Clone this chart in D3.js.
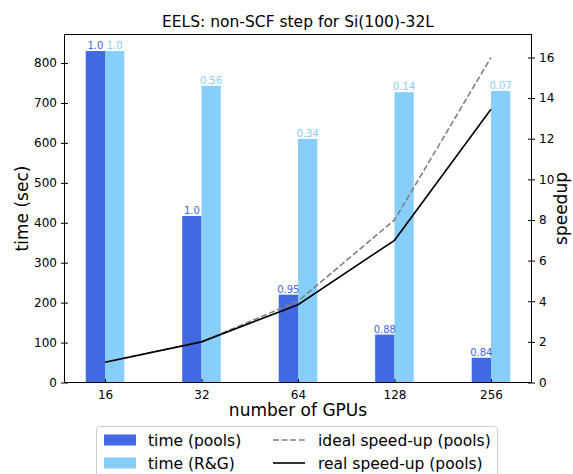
<!DOCTYPE html>
<meta charset="utf-8">
<style>
body { margin: 0; background: #fff; }
text { font-family: "DejaVu Sans", sans-serif; fill: #000; }
.axis path, .axis line { stroke: #000; }
</style>
<svg width="573" height="474"></svg>
<script src="https://cdn.jsdelivr.net/npm/d3@7"></script>
<script>

var gpus = ["16", "32", "64", "128", "256"];
var timePools = [830, 417, 220, 120, 62];
var timeRG = [830, 743, 610, 727, 730];
var effPools = ["1.0", "1.0", "0.95", "0.88", "0.84"];
var effRG = ["1.0", "0.56", "0.34", "0.14", "0.07"];
var idealSpeedup = [1, 2, 4, 8, 16];
var realSpeedup = [1, 2, 3.83, 7, 13.45];
var leftTicks = [0, 100, 200, 300, 400, 500, 600, 700, 800];
var rightTicks = [0, 2, 4, 6, 8, 10, 12, 14, 16];

var svg = d3.select("svg"),
    plotL = 64.5, plotR = 531.5, plotT = 34.5, plotB = 382.5,
    barW = 0.2,
    poolsColor = "#4169e1", rgColor = "#87cefa";

var x = d3.scaleLinear().domain([-0.42, 4.42]).range([plotL, plotR]);
var y = d3.scaleLinear().domain([0, 871.5]).range([plotB, plotT]);
var y2 = d3.scaleLinear().domain([0, 17.13]).range([plotB, plotT]);

// bars
svg.append("g").selectAll("rect")
  .data(timePools)
  .enter().append("rect")
    .attr("x", function(d, i) { return x(i - barW); })
    .attr("width", function(d, i) { return x(i) - x(i - barW); })
    .attr("y", function(d) { return y(d); })
    .attr("height", function(d) { return y(0) - y(d); })
    .attr("fill", poolsColor);

svg.append("g").selectAll("rect")
  .data(timeRG)
  .enter().append("rect")
    .attr("x", function(d, i) { return x(i); })
    .attr("width", function(d, i) { return x(i + barW) - x(i); })
    .attr("y", function(d) { return y(d); })
    .attr("height", function(d) { return y(0) - y(d); })
    .attr("fill", rgColor);

// efficiency labels
svg.append("g").selectAll("text")
  .data(timePools)
  .enter().append("text")
    .attr("x", function(d, i) { return x(i - barW / 2); })
    .attr("y", function(d) { return y(d) - 2; })
    .attr("text-anchor", "middle")
    .style("font-size", "10px")
    .style("fill", poolsColor)
    .text(function(d, i) { return effPools[i]; });

svg.append("g").selectAll("text")
  .data(timeRG)
  .enter().append("text")
    .attr("x", function(d, i) { return x(i + barW / 2); })
    .attr("y", function(d) { return y(d) - 2; })
    .attr("text-anchor", "middle")
    .style("font-size", "10px")
    .style("fill", rgColor)
    .text(function(d, i) { return effRG[i]; });

// speedup lines
var line = d3.line()
    .x(function(d, i) { return x(i); })
    .y(function(d) { return y2(d); });

svg.append("path")
    .datum(idealSpeedup)
    .attr("d", line)
    .attr("fill", "none")
    .attr("stroke", "#808080")
    .attr("stroke-width", 1.6)
    .attr("stroke-dasharray", "6,2.6");

svg.append("path")
    .datum(realSpeedup)
    .attr("d", line)
    .attr("fill", "none")
    .attr("stroke", "#000")
    .attr("stroke-width", 1.6);

// frame
svg.append("rect")
    .attr("x", plotL).attr("y", plotT)
    .attr("width", plotR - plotL).attr("height", plotB - plotT)
    .attr("fill", "none").attr("stroke", "#000").attr("stroke-width", 1);

// axes
var yAxis = svg.append("g").attr("class", "axis")
    .attr("transform", "translate(" + plotL + ",0)")
    .call(d3.axisLeft(y).tickValues(leftTicks).tickSize(3.5).tickPadding(4));
yAxis.selectAll(".tick line").attr("x2", 3.5).attr("x1", -3.5);
yAxis.select(".domain").remove();
yAxis.selectAll("text").style("font-size", "12px");

var y2Axis = svg.append("g").attr("class", "axis")
    .attr("transform", "translate(" + plotR + ",0)")
    .call(d3.axisRight(y2).tickValues(rightTicks).tickSize(3.5).tickPadding(4));
y2Axis.selectAll(".tick line").attr("x1", -3.5).attr("x2", 3.5);
y2Axis.select(".domain").remove();
y2Axis.selectAll("text").style("font-size", "12px");

var xAxis = svg.append("g").attr("class", "axis")
    .attr("transform", "translate(0," + plotB + ")")
    .call(d3.axisBottom(x).tickValues([0, 1, 2, 3, 4])
      .tickFormat(function(d) { return gpus[d]; })
      .tickSize(3.5).tickPadding(4));
xAxis.selectAll(".tick line").attr("y1", -3.5).attr("y2", 0);
xAxis.select(".domain").remove();
xAxis.selectAll("text").style("font-size", "12px");

// titles
svg.append("text")
    .attr("x", (plotL + plotR) / 2).attr("y", 27)
    .attr("text-anchor", "middle")
    .style("font-size", "15.5px")
    .text("EELS: non-SCF step for Si(100)-32L");

svg.append("text")
    .attr("x", (plotL + plotR) / 2).attr("y", 416)
    .attr("text-anchor", "middle")
    .style("font-size", "17px")
    .text("number of GPUs");

svg.append("text")
    .attr("transform", "translate(28," + (plotT + plotB) / 2 + ") rotate(-90)")
    .attr("text-anchor", "middle")
    .style("font-size", "17px")
    .text("time (sec)");

svg.append("text")
    .attr("transform", "translate(567," + (plotT + plotB) / 2 + ") rotate(-90)")
    .attr("text-anchor", "middle")
    .style("font-size", "17px")
    .text("speedup");

// legend
var legend = svg.append("g");
legend.append("rect")
    .attr("x", 96.5).attr("y", 426.5)
    .attr("width", 401).attr("height", 60)
    .attr("rx", 3)
    .attr("fill", "#fff").attr("stroke", "#ccc");

var legendItems = [
  { label: "time (pools)", kind: "bar", color: poolsColor, col: 0, row: 0 },
  { label: "time (R&G)", kind: "bar", color: rgColor, col: 0, row: 1 },
  { label: "ideal speed-up (pools)", kind: "dash", color: "#808080", col: 1, row: 0 },
  { label: "real speed-up (pools)", kind: "line", color: "#000", col: 1, row: 1 }
];
var colX = [104, 273], textX = [148, 318];

legendItems.forEach(function(d) {
  var cy = 440 + d.row * 23;
  if (d.kind === "bar") {
    legend.append("rect")
      .attr("x", colX[d.col]).attr("y", cy - 5.5)
      .attr("width", 32).attr("height", 11)
      .attr("fill", d.color);
  } else {
    legend.append("line")
      .attr("x1", colX[d.col]).attr("x2", colX[d.col] + 32)
      .attr("y1", cy).attr("y2", cy)
      .attr("stroke", d.color).attr("stroke-width", 1.6)
      .attr("stroke-dasharray", d.kind === "dash" ? "6,2.6" : null);
  }
  legend.append("text")
    .attr("x", textX[d.col]).attr("y", cy + 5.5)
    .style("font-size", "15.5px")
    .text(d.label);
});

</script>
